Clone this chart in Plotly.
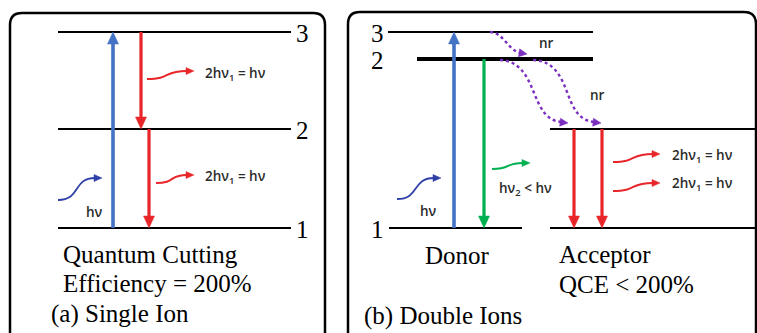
import plotly.graph_objects as go

W, H = 757, 333

# energy-level rows (diagram y, top-down)
LEFT_LEVELS = [("3", 32), ("2", 129), ("1", 228)]
DONOR_LEVELS = [("3", 32, 388, 593), ("2", 59, 417, 593), ("1", 228, 389, 522)]
ACCEPTOR_LEVELS = [129, 228]

BLUE = "#4472C4"
RED = "#E8262A"
GREEN = "#00B050"
PURPLE = "#7B2FBE"
NAVY = "#2E3FA8"
SERIF = "Times New Roman, Liberation Serif, serif"
SANS = "Open Sans, sans-serif"
TXT = "#2b2b2b"

fig = go.Figure()
shapes = []
annotations = []


def rounded_box(x0, y0, x1, y1, r):
    p = (f"M {x0+r} {y0} L {x1-r} {y0} Q {x1} {y0} {x1} {y0+r} "
         f"L {x1} {y1-r} Q {x1} {y1} {x1-r} {y1} L {x0+r} {y1} "
         f"Q {x0} {y1} {x0} {y1-r} L {x0} {y0+r} Q {x0} {y0} {x0+r} {y0} Z")
    shapes.append(dict(type="path", path=p, line=dict(color="black", width=2.5)))


def hline(x0, x1, y, w=2.2):
    shapes.append(dict(type="line", x0=x0, x1=x1, y0=y, y1=y,
                       line=dict(color="black", width=w)))


def head(tx, ty, dx, dy, color, L=12, hw=5.5):
    n = (dx * dx + dy * dy) ** 0.5
    ux, uy = dx / n, dy / n
    bx, by = tx - ux * L, ty - uy * L
    px, py = -uy * hw, ux * hw
    p = (f"M {tx} {ty} L {bx+px} {by+py} L {bx-px} {by-py} Z")
    shapes.append(dict(type="path", path=p, fillcolor=color,
                       line=dict(color=color, width=0.5)))


def varrow(x, y_from, y_to, color, w=3.2):
    d = 1 if y_to > y_from else -1
    shapes.append(dict(type="line", x0=x, x1=x, y0=y_from, y1=y_to - d * 9,
                       line=dict(color=color, width=w)))
    head(x, y_to, 0, d, color, L=12, hw=5.5)


def wavy(x0, y0, x1, y1, color, w=2.0):
    dx = x1 - x0
    p = (f"M {x0} {y0} C {x0+0.55*dx} {y0}, {x0+0.35*dx} {y1}, {x1-5} {y1}")
    shapes.append(dict(type="path", path=p, line=dict(color=color, width=w)))
    head(x1 + 2, y1, 1, 0, color, L=8, hw=3.5)


def dotted(p, tip, direction):
    shapes.append(dict(type="path", path=p,
                       line=dict(color=PURPLE, width=2.4, dash="dot")))
    head(tip[0], tip[1], direction[0], direction[1], PURPLE, L=8, hw=4)


def text(x, y, s, size, family=SERIF, color="black", xanchor="left", weight="normal"):
    annotations.append(dict(x=x, y=y, text=s, showarrow=False, xanchor=xanchor,
                            yanchor="middle",
                            font=dict(family=family, size=size, color=color, weight=weight)))


def label(x, y, s, xanchor="left"):
    text(x, y, s, 13.5, SANS, TXT, xanchor, weight=600)


# ---- panel (a): single ion ----
rounded_box(10, 13, 325, 345, 12)
for lab, y in LEFT_LEVELS:
    hline(58, 291, y)
    text(302, y + 1, lab, 25, xanchor="center")
varrow(113, 228, 32, BLUE, w=3.6)
varrow(141, 32, 129, RED)
varrow(149, 129, 228, RED)
wavy(147, 79, 192, 71, RED)
wavy(156, 183, 192, 175, RED)
label(203, 74, "2hν<sub>1</sub> = hν")
label(203, 177, "2hν<sub>1</sub> = hν")
wavy(58, 200, 100, 178, NAVY, w=1.8)
label(84, 212, "hν")
text(61, 254, "Quantum Cutting", 25)
text(61, 283, "Efficiency = 200%", 25)
text(49, 314, "(a) Single Ion", 25)

# ---- panel (b): double ions ----
rounded_box(348, 12, 756, 345, 12)
for lab, y, xa, xb in DONOR_LEVELS:
    hline(xa, xb, y, w=4 if lab == "2" else 2.2)
    text(377, y + 1, lab, 25, xanchor="center")
for y in ACCEPTOR_LEVELS:
    hline(550, 760, y)
varrow(454, 228, 32, BLUE, w=3.6)
varrow(484, 59, 228, GREEN)
varrow(574, 129, 228, RED)
varrow(602, 129, 228, RED)
wavy(492, 169, 528, 163, GREEN)
label(497, 189, "hν<sub>2</sub> < hν")
wavy(397, 199, 439, 178, NAVY, w=1.8)
label(428, 211, "hν", xanchor="center")
wavy(613, 162, 658, 154, RED)
wavy(613, 191, 658, 183, RED)
label(670, 156, "2hν<sub>1</sub> = hν")
label(670, 184, "2hν<sub>1</sub> = hν")

dotted("M 490 32 C 505 33, 508 52, 522 53", (527, 54), (1, 0.15))
dotted("M 500 60 C 540 62, 528 120, 562 122", (568, 123), (1, 0.1))
dotted("M 533 60 C 575 62, 560 120, 595 122", (601, 123), (1, 0.1))
label(537, 43, "nr")
label(588, 95, "nr")

text(423, 255, "Donor", 25)
text(557, 254, "Acceptor", 25)
text(557, 284, "QCE < 200%", 25)
text(362, 316, "(b) Double Ions", 25)

fig.update_layout(
    width=W, height=H, margin=dict(l=0, r=0, t=0, b=0),
    paper_bgcolor="white", plot_bgcolor="white",
    xaxis=dict(range=[0, W], visible=False, fixedrange=True),
    yaxis=dict(range=[H, 0], visible=False, fixedrange=True),
    shapes=shapes, annotations=annotations, showlegend=False,
)
fig.write_html("out.html", config={"displayModeBar": False})
